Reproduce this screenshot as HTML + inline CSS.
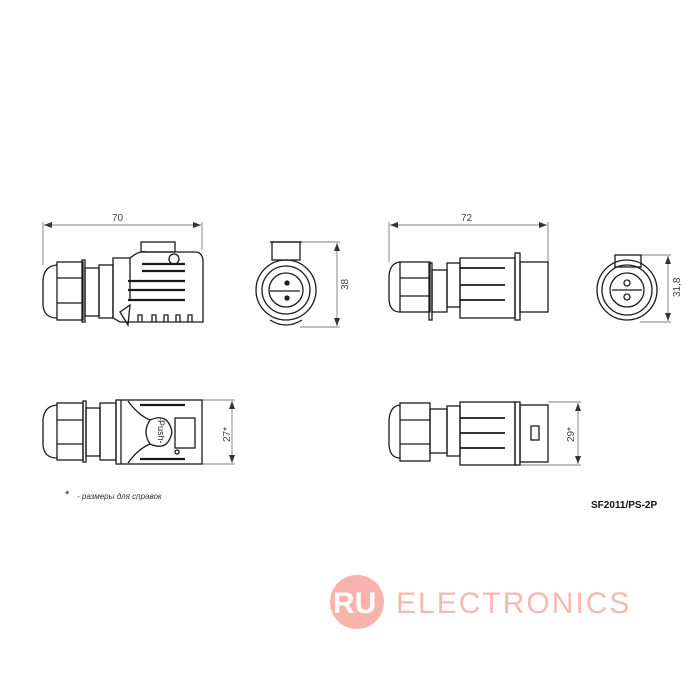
<!DOCTYPE html>
<html><head><meta charset="utf-8"><style>
html,body{margin:0;padding:0;background:#fff;width:700px;height:700px;overflow:hidden}
svg{display:block}
text{font-family:"Liberation Sans",sans-serif}
</style></head><body>
<svg width="700" height="700" viewBox="0 0 700 700" xmlns="http://www.w3.org/2000/svg">
<defs><marker id="a" markerWidth="8" markerHeight="6" refX="8" refY="3" orient="auto-start-reverse" markerUnits="userSpaceOnUse"><path d="M0,0 L8,3 L0,6 z" fill="#333"/></marker></defs>
<g stroke="#555" stroke-width="0.7" fill="none">
<line x1="43" y1="222" x2="43" y2="265"/><line x1="202" y1="222" x2="202" y2="250"/>
<line x1="44" y1="225" x2="201" y2="225" marker-start="url(#a)" marker-end="url(#a)"/>
<line x1="300" y1="242" x2="340" y2="242"/><line x1="300" y1="327" x2="340" y2="327"/>
<line x1="337" y1="243" x2="337" y2="326" marker-start="url(#a)" marker-end="url(#a)"/>
<line x1="200" y1="400" x2="235" y2="400"/><line x1="200" y1="464" x2="235" y2="464"/>
<line x1="232" y1="401" x2="232" y2="463" marker-start="url(#a)" marker-end="url(#a)"/>
<line x1="389" y1="222" x2="389" y2="262"/><line x1="548" y1="222" x2="548" y2="262"/>
<line x1="390" y1="225" x2="547" y2="225" marker-start="url(#a)" marker-end="url(#a)"/>
<line x1="640" y1="255" x2="671" y2="255"/><line x1="640" y1="322" x2="671" y2="322"/>
<line x1="668" y1="256" x2="668" y2="321" marker-start="url(#a)" marker-end="url(#a)"/>
<line x1="548" y1="402" x2="581" y2="402"/><line x1="520" y1="465" x2="581" y2="465"/>
<line x1="578" y1="403" x2="578" y2="464" marker-start="url(#a)" marker-end="url(#a)"/>
</g>
<g fill="none" stroke="#1a1a1a" stroke-width="1.3">
<path d="M57,265 Q44,266 43,280 L43,305 Q44,318 57,318"/>
<rect x="57" y="262" width="26" height="58"/><line x1="57" y1="278" x2="83" y2="278"/><line x1="57" y1="303" x2="83" y2="303"/>
<rect x="82" y="260" width="3" height="62"/>
<rect x="85" y="268" width="14" height="48"/>
<rect x="99" y="265" width="14" height="53"/>
<path d="M113,258 L130,258 Q140,250 146,252 L195,252 Q203,252 203,262 L203,322 L120,322 L113,318 Z"/>
<line x1="130" y1="258" x2="130" y2="300"/>
<rect x="141" y="242" width="34" height="10"/><circle cx="174" cy="259" r="5"/>
<path d="M142,264 L185,264 M142,271 L185,271 M128,281 L185,281 M128,290 L185,290 M128,300 L185,300" stroke-width="2.2"/>
<path d="M120,312 L130,305 L128,325 Z"/>
<path d="M138,322 v-7 h4 v7 M152,322 v-7 h4 v7 M164,322 v-7 h4 v7 M176,322 v-7 h4 v7 M188,322 v-7 h4 v7"/>
<circle cx="286" cy="290" r="30"/><circle cx="286" cy="290" r="24"/><circle cx="286" cy="290" r="17"/>
<rect x="272" y="242" width="28" height="18"/><path d="M270,242 h32"/>
<path d="M270,320 Q286,330 302,320"/>
<path d="M270,291 L300,291"/>
<circle cx="287" cy="283" r="2" fill="#222"/><circle cx="287" cy="298" r="2" fill="#222"/>
<path d="M57,405 Q44,406 43,420 L43,445 Q44,458 57,458"/>
<rect x="57" y="403" width="26" height="57"/><line x1="57" y1="420" x2="83" y2="420"/><line x1="57" y1="444" x2="83" y2="444"/>
<rect x="83" y="401" width="3" height="61"/>
<rect x="86" y="408" width="14" height="48"/>
<rect x="100" y="403" width="16" height="57"/>
<rect x="116" y="400" width="86" height="64"/>
<line x1="121" y1="400" x2="121" y2="464"/>
<path d="M140,405 L185,405 M140,459 L185,459" stroke-width="2.2"/>
<path d="M128,401 Q138,415 150,420 M128,463 Q138,449 150,444"/>
<path d="M150,420 Q168,412 172,432 Q168,452 150,444 Q142,432 150,420 Z"/>
<rect x="175" y="418" width="20" height="30"/>
<circle cx="177" cy="452" r="2"/>
<path d="M460,0"/>
<path d="M400,262 Q390,263 389,276 L389,300 Q390,312 400,312"/>
<rect x="400" y="262" width="30" height="50"/><line x1="400" y1="278" x2="430" y2="278"/><line x1="400" y1="296" x2="430" y2="296"/>
<rect x="429" y="263" width="3" height="57"/>
<rect x="432" y="270" width="15" height="42"/>
<rect x="447" y="263" width="13" height="44"/>
<rect x="460" y="258" width="55" height="60"/>
<path d="M460,268 L505,268 M460,285 L505,285 M460,300 L505,300" stroke-width="1.8"/>
<rect x="515" y="253" width="5" height="67"/>
<rect x="520" y="262" width="28" height="50"/>
<circle cx="627" cy="290" r="30"/><circle cx="627" cy="290" r="25"/><circle cx="627" cy="290" r="17"/>
<rect x="615" y="255" width="26" height="12"/>
<path d="M612,290 L642,290"/><circle cx="627" cy="283" r="3"/><circle cx="627" cy="297" r="3"/>
<path d="M400,405 Q390,406 389,420 L389,445 Q390,458 400,458"/>
<rect x="400" y="403" width="30" height="58"/><line x1="400" y1="420" x2="430" y2="420"/><line x1="400" y1="444" x2="430" y2="444"/>
<rect x="430" y="409" width="17" height="44"/>
<rect x="447" y="406" width="13" height="50"/>
<rect x="460" y="402" width="55" height="63"/>
<path d="M460,418 L505,418 M460,433 L505,433 M460,448 L505,448" stroke-width="1.8"/>
<rect x="515" y="402" width="5" height="63"/>
<rect x="520" y="405" width="28" height="57"/><rect x="531" y="426" width="8" height="14"/>
</g>
<g fill="#444" font-size="10">
<text x="112" y="221">70</text>
<text x="461" y="221">72</text>
<text transform="translate(348,290) rotate(-90)">38</text>
<text transform="translate(230,442) rotate(-90)">27*</text>
<text transform="translate(574,442) rotate(-90)">29*</text>
<text transform="translate(680,297) rotate(-90)">31,8</text>
</g>
<text transform="translate(158,417) rotate(90)" font-size="9" fill="#222">-Push-</text>
<text x="65" y="498" font-size="11" fill="#222">*</text>
<text x="77" y="499" font-size="8" font-style="italic" fill="#333">- размеры для справок</text>
<text x="591" y="508" font-size="10" font-weight="bold" fill="#111">SF2011/PS-2P</text>
<circle cx="357" cy="602" r="27" fill="#f8b4ac"/>
<text x="333" y="613" font-size="30" font-weight="bold" fill="#fff">RU</text>
<text x="396" y="613" font-size="30" fill="#f8b8b0" letter-spacing="2">ELECTRONICS</text>
</svg>
</body></html>
